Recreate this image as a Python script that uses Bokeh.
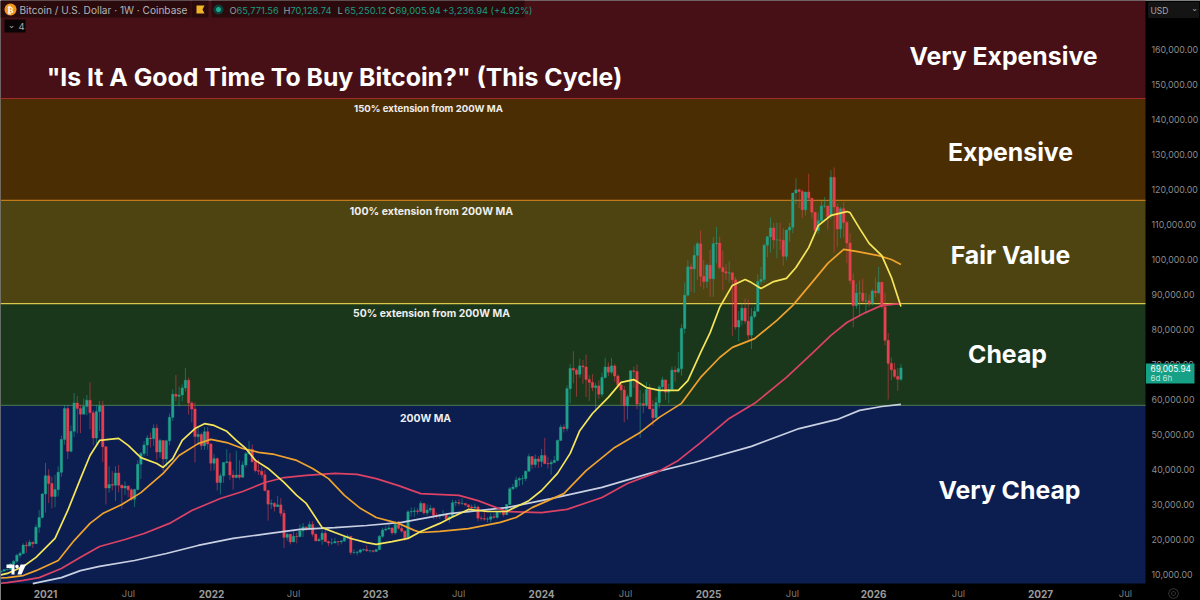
import math
from bokeh.plotting import figure
from bokeh.models import BoxAnnotation, Label, PolyAnnotation, ColumnDataSource, Range1d
from bokeh.embed import file_html
from bokeh.resources import INLINE

first_week = -14
opens = [10.7,11.0,11.4,11.5,13.0,13.8,15.5,16.0,18.4,18.2,19.2,18.8,23.5,26.3,
33.0,38.2,36.0,32.3,34.3,39.2,48.6,57.4,45.2,50.9,59.0,57.4,55.8,58.0,59.8,56.2,49.0,56.6,58.2,46.5,34.7,35.7,35.5,39.0,35.5,34.7,35.3,34.2,31.5,34.3,41.5,44.6,47.0,49.0,48.8,51.8,45.0,48.3,43.0,48.2,54.9,61.5,60.9,61.3,63.3,65.5,59.0,57.3,49.4,50.0,46.8,50.8,
47.3,41.8,43.1,36.3,38.2,42.0,42.2,38.4,37.7,38.4,37.8,41.3,44.5,45.8,42.2,39.7,39.5,38.5,34.0,30.1,30.3,29.4,29.9,27.5,20.6,21.5,19.3,20.9,20.8,22.5,23.6,23.2,24.3,21.5,19.6,20.0,21.8,19.4,19.0,19.0,19.4,19.3,19.6,20.6,20.9,16.3,16.3,16.4,17.0,17.1,16.8,16.8,
16.6,17.1,20.9,22.7,23.0,23.3,21.9,24.3,23.2,22.4,20.5,27.9,28.0,28.2,28.0,30.3,27.6,28.4,28.9,26.9,26.7,27.1,27.1,25.8,26.5,30.5,30.6,30.3,30.3,29.9,29.3,29.0,29.3,26.1,26.0,25.8,25.8,26.5,26.3,27.9,27.9,27.1,30.0,34.5,35.0,37.0,37.4,37.4,39.5,43.7,41.4,43.0,
42.3,44.0,41.7,41.6,42.0,42.6,48.3,52.1,51.7,63.1,68.9,68.4,67.2,69.6,69.3,65.7,64.9,63.4,63.9,61.5,66.3,69.3,67.8,69.6,66.7,64.2,62.7,58.2,60.8,68.2,68.0,58.7,58.8,58.4,62.9,57.3,54.8,59.1,63.6,65.6,62.1,62.9,68.4,67.9,68.8,80.3,89.8,97.9,97.3,101.2,104.5,95.2,93.7,
98.4,94.5,104.5,104.7,97.7,96.5,96.1,96.2,94.2,80.7,82.6,86.1,82.4,78.4,83.7,85.2,93.7,94.3,104.1,106.5,109.0,105.6,105.6,105.5,100.9,108.4,109.2,119.0,119.9,119.4,114.2,119.3,117.5,113.5,108.3,111.1,115.3,115.3,112.2,123.5,115.0,108.7,114.5,110.6,104.7,94.0,86.8,90.4,90.4,88.2,88.2,87.5,
91.0,90.5,93.5,86.5,76.9,70.3,68.5,66.6,65.77]
highs = [11.1,11.5,11.7,13.3,14.1,15.9,16.5,18.9,19.4,19.9,19.4,24.3,28.4,33.3,
41.9,40.1,37.9,38.5,40.9,49.7,58.4,58.3,52.6,61.8,61.0,58.4,60.2,61.3,64.9,57.0,58.5,59.6,59.6,46.6,40.9,39.5,40.9,41.3,35.7,36.6,35.4,34.7,34.5,42.6,45.0,48.1,49.8,50.5,52.9,52.9,48.8,48.4,48.5,56.0,62.9,67.0,63.7,64.3,69.0,66.3,59.5,59.2,52.0,50.5,52.1,52.1,
47.5,44.4,43.5,38.9,42.0,45.8,44.7,39.8,45.4,42.6,42.3,45.1,48.2,47.2,42.4,42.9,40.8,40.0,34.2,31.4,30.7,32.4,31.8,28.5,21.9,21.5,22.5,22.0,24.3,24.7,23.6,25.2,25.2,21.8,20.6,22.8,22.7,19.7,20.4,20.5,19.6,19.7,21.1,21.5,21.0,17.2,16.8,17.4,17.4,18.3,17.0,16.9,
17.2,21.3,23.4,23.8,24.3,23.4,25.2,25.3,23.9,22.6,28.4,29.2,29.2,29.0,31.0,30.5,30.0,29.9,29.2,27.7,27.1,28.4,27.4,26.8,31.4,31.3,31.5,31.8,30.4,30.0,30.0,30.2,29.7,26.8,28.1,26.4,27.5,27.4,28.0,28.6,28.0,30.2,35.0,35.9,38.0,37.9,38.4,39.7,44.5,43.8,44.3,43.8,
45.9,49.0,43.6,42.8,43.9,48.6,52.8,52.9,64.0,70.2,73.8,68.9,71.7,71.3,72.8,66.9,67.2,64.7,65.5,67.7,71.9,70.6,71.9,70.2,67.2,64.5,63.8,61.5,68.4,69.4,70.0,62.7,61.8,65.0,64.5,59.8,60.7,64.1,66.5,65.6,64.5,69.4,69.5,73.6,81.5,93.4,99.8,98.9,104.0,105.0,108.3,99.9,98.9,
102.7,106.4,109.3,106.5,102.5,98.8,99.5,96.5,95.0,85.3,87.5,88.8,88.5,86.1,86.5,95.8,97.9,104.4,106.7,112.0,110.4,110.5,110.5,108.9,108.5,110.5,119.0,123.2,120.2,120.0,119.3,124.5,117.6,113.6,113.4,116.8,117.9,115.3,125.5,126.3,115.9,115.0,116.4,111.0,107.5,96.0,93.1,94.0,94.5,90.4,90.0,91.5,
94.8,97.9,93.6,90.5,79.0,72.0,70.5,69.0,70.13]
lows = [10.6,10.8,11.2,11.4,12.8,13.2,14.8,15.8,16.2,18.0,17.6,18.8,21.9,26.0,
27.7,30.4,28.9,29.2,32.3,37.9,47.1,43.0,44.9,49.3,50.3,50.4,55.7,55.5,51.5,47.0,47.1,51.0,42.1,30.0,33.4,34.0,31.0,33.5,28.8,32.7,32.1,31.0,29.3,34.0,37.3,43.8,43.9,46.3,46.7,42.8,43.4,39.6,40.8,46.9,53.9,59.5,58.0,59.5,62.3,55.7,53.5,42.0,46.9,45.6,45.6,45.7,
39.6,39.7,34.0,32.9,36.2,41.7,37.0,34.3,37.5,37.2,37.6,40.5,44.4,42.0,39.2,38.5,37.6,33.7,25.4,28.7,28.0,29.3,26.6,17.6,19.7,18.6,19.3,18.9,20.7,20.7,22.4,22.7,20.8,19.5,19.6,18.5,19.3,18.1,18.5,19.0,18.2,18.6,19.3,20.0,15.6,15.8,15.5,16.0,16.7,16.5,16.3,16.3,
16.5,17.1,20.4,22.3,22.7,21.4,21.4,22.8,21.9,19.6,20.5,26.6,26.5,27.2,28.0,27.1,26.9,27.7,25.8,26.0,25.9,26.5,25.4,24.8,26.3,29.5,29.7,29.9,29.5,28.9,28.6,28.7,25.2,25.4,25.3,24.9,24.9,26.0,26.0,27.2,26.5,27.1,29.8,34.1,34.5,35.3,35.6,36.7,39.4,40.2,40.5,40.5,
40.7,41.5,40.3,38.5,41.9,42.3,48.3,50.6,50.9,59.0,64.6,60.8,66.2,64.5,60.7,59.6,62.4,56.5,60.2,60.7,66.0,66.7,67.2,65.1,63.4,58.5,53.5,54.3,60.6,63.4,57.2,49.0,56.1,57.8,57.2,52.5,54.6,57.5,62.7,59.8,58.9,62.4,65.1,67.5,66.8,78.8,89.4,90.8,90.5,94.1,92.2,91.5,91.9,
89.3,89.3,98.9,97.2,91.2,94.1,93.4,78.2,80.0,76.6,81.2,81.6,77.1,74.4,83.1,85.1,92.8,93.4,100.7,102.0,103.1,100.4,102.7,98.2,99.8,105.1,107.5,115.8,114.7,111.9,112.6,116.8,111.7,107.3,107.3,110.6,114.7,108.6,111.6,102.0,103.5,106.1,106.3,98.9,93.0,80.6,85.9,83.8,87.5,84.4,86.5,86.8,
89.3,90.0,86.0,75.5,60.0,65.5,66.0,62.5,65.25]
closes = [11.0,11.4,11.5,13.0,13.8,15.5,16.0,18.4,18.2,19.2,18.8,23.5,26.3,33.0,
38.2,36.0,32.3,34.3,39.2,48.6,57.4,45.2,50.9,59.0,57.4,55.8,58.0,59.8,56.2,49.0,56.6,58.2,46.5,34.7,35.7,35.5,39.0,35.5,34.7,35.3,34.2,31.5,34.3,41.5,44.6,47.0,49.0,48.8,51.8,45.0,48.3,43.0,48.2,54.9,61.5,60.9,61.3,63.3,65.5,59.0,57.3,49.4,50.0,46.8,50.8,47.3,
41.8,43.1,36.3,38.2,42.0,42.2,38.4,37.7,38.4,37.8,41.3,44.5,45.8,42.2,39.7,39.5,38.5,34.0,30.1,30.3,29.4,29.9,27.5,20.6,21.5,19.3,20.9,20.8,22.5,23.6,23.2,24.3,21.5,19.6,20.0,21.8,19.4,19.0,19.0,19.4,19.3,19.6,20.6,20.9,16.3,16.3,16.4,17.0,17.1,16.8,16.8,16.6,
17.1,20.9,22.7,23.0,23.3,21.9,24.3,23.2,22.4,20.5,27.9,28.0,28.2,28.0,30.3,27.6,28.4,28.9,26.9,26.7,27.1,27.1,25.8,26.5,30.5,30.6,30.3,30.3,29.9,29.3,29.0,29.3,26.1,26.0,25.8,25.8,26.5,26.3,27.9,27.9,27.1,30.0,34.5,35.0,37.0,37.4,37.4,39.5,43.7,41.4,43.0,42.3,
44.0,41.7,41.6,42.0,42.6,48.3,52.1,51.7,63.1,68.9,68.4,67.2,69.6,69.3,65.7,64.9,63.4,63.9,61.5,66.3,69.3,67.8,69.6,66.7,64.2,62.7,58.2,60.8,68.2,68.0,58.7,58.8,58.4,62.9,57.3,54.8,59.1,63.6,65.6,62.1,62.9,68.4,67.9,68.8,80.3,89.8,97.9,97.3,101.2,104.5,95.2,93.7,98.4,
94.5,104.5,104.7,97.7,96.5,96.1,96.2,94.2,80.7,82.6,86.1,82.4,78.4,83.7,85.2,93.7,94.3,104.1,106.5,109.0,105.6,105.6,105.5,100.9,108.4,109.2,119.0,119.9,119.4,114.2,119.3,117.5,113.5,108.3,111.1,115.3,115.3,112.2,123.5,115.0,108.7,114.5,110.6,104.7,94.0,86.8,90.4,90.4,88.2,88.2,87.5,91.0,
90.5,93.5,86.5,76.9,70.3,68.5,66.6,65.77,69.01]

ma_yellow_w = [-14,-12,-7,-3,3,7,11,14,17,20,23,26,30,35,37,40,43,47,50,53,57,60,63,66,70,75,79,82,87,91,96,101,104,109,114,118,124,127,133,139,145,152,156,161,165,168,172,177,181,185,189,193,199,202,206,209,212,216,220,222,225,229,233,236,240,243,247,252,253,256,259,263,266,269]
ma_yellow_v = [9.9,10.3,12.3,14.9,20.3,28.3,37.4,44.0,48.3,48.6,48.9,46.9,43.4,41.7,40.6,43.1,48.3,51.7,53.1,52.6,50.9,48.3,46.0,42.6,40.3,36.3,32.6,30.3,23.4,22.0,20.3,19.1,18.6,19.4,20.3,22.3,24.6,26.0,28.6,28.0,28.0,31.1,34.0,38.9,44.6,51.1,56.0,60.6,64.9,65.7,63.4,62.6,62.6,65.4,73.4,79.1,86.3,92.6,94.3,93.4,91.7,93.7,94.6,97.7,103.4,109.7,112.6,113.7,113.4,108.9,104.6,101.1,94.9,86.6]
ma_orange_w = [-14,-12,-7,-3,4,9,14,18,24,30,37,42,48,52,57,62,67,72,79,84,89,94,99,104,111,116,118,124,133,143,148,153,163,170,179,187,193,200,206,212,216,223,230,235,241,246,251,255,262,266,269]
ma_orange_v = [9.0,9.1,9.7,11.1,14.0,19.7,24.6,27.4,30.0,33.4,38.9,44.0,47.4,48.6,47.7,46.0,44.9,44.3,42.6,40.3,37.4,32.6,28.9,26.3,24.6,22.6,22.0,22.3,23.1,24.9,26.3,29.1,33.1,39.7,46.3,50.6,54.9,58.9,66.3,72.0,74.9,77.4,82.6,86.9,93.4,98.9,102.9,102.3,101.1,100.0,98.6]
ma_red_w = [-14,-12,-7,-2,5,11,17,25,31,39,46,55,62,69,75,82,91,98,104,111,118,130,136,145,156,164,175,183,192,199,206,215,223,233,241,247,252,258,263,269]
ma_red_v = [7.5,7.7,8.3,9.1,11.7,14.9,18.0,20.0,21.7,24.6,28.3,31.7,33.7,36.3,37.7,38.3,38.9,38.6,37.4,35.4,33.1,32.6,31.1,28.0,27.7,28.6,32.0,36.0,39.1,42.6,47.7,54.6,58.9,66.3,73.1,78.3,82.0,84.9,86.9,87.4]
ma_white_w = [-4,5,11,17,28,38,48,59,70,80,91,101,112,127,145,159,175,190,204,222,237,249,256,263,269]
ma_white_v = [7.4,9.1,11.1,12.3,14.0,16.0,18.3,20.3,21.7,22.9,23.4,24.0,24.9,27.4,29.1,31.7,34.9,38.9,42.0,46.6,51.7,54.3,56.9,58.0,58.6]

zone_edges = [58.3, 87.4, 116.9, 146.0]
zone_names = ["Very Cheap", "Cheap", "Fair Value", "Expensive", "Very Expensive"]
edge_names = ["200W MA", "50% extension from 200W MA", "100% extension from 200W MA", "150% extension from 200W MA"]

price_ticks = [10,20,30,40,50,60,70,80,90,100,110,120,130,140,150,160]
price_tick_labels = ["10,000.00","20,000.00","30,000.00","40,000.00","50,000.00","60,000.00","70,000.00","80,000.00",
                     "90,000.00","100,000.00","110,000.00","120,000.00","130,000.00","140,000.00","150,000.00","160,000.00"]
year_ticks = [0, 52.2, 103.8, 156, 208.5, 260.4, 312.9]
year_labels = ["2021","2022","2023","2024","2025","2026","2027"]
jul_ticks = [26.1, 78, 129.9, 182.4, 234.9, 287.1, 339.6]

def px(x): return (x - 45) / 3.18
def py(y): return 10 + (574 - y) / 3.5

FONT = "Inter"
p = figure(frame_width=1200, frame_height=600, output_backend="svg", toolbar_location=None,
           x_range=Range1d(px(0), px(1200)), y_range=Range1d(py(600), py(0)),
           x_axis_location=None, y_axis_location=None,
           min_border_left=0, min_border_top=0, min_border_right=0, min_border_bottom=0,
           background_fill_color="#000000", border_fill_color="#000000", outline_line_color=None)
p.grid.visible = False

band_colors = ["#0c1e50", "#1a361b", "#4e4412", "#4b2d03", "#461016"]
edges = [py(583)] + zone_edges + [None]
for i, c in enumerate(band_colors):
    p.add_layout(BoxAnnotation(bottom=edges[i], top=edges[i+1], right=px(1145), fill_color=c, fill_alpha=1,
                               line_alpha=0, level="underlay"))
edge_src = ColumnDataSource(dict(x0=[px(0)]*4, x1=[px(1145)]*4, y=zone_edges,
                                 color=["#3f6a4c", "#d9c84a", "#c07a1c", "#a52a2a"]))
p.segment("x0", "y", "x1", "y", source=edge_src, color="color", line_width=1.2)

weeks = [first_week + i for i in range(len(closes))]
UP, DOWN = "#1fa38a", "#e8404f"
src = ColumnDataSource(dict(w=weeks, o=opens, h=highs, l=lows, c=closes,
                            color=[UP if c >= o else DOWN for o, c in zip(opens, closes)]))
p.segment("w", "h", "w", "l", source=src, color="color", line_width=1, line_alpha=0.55)
p.vbar("w", 0.76, "o", "c", source=src, fill_color="color", line_color="color", line_width=0.4)

p.line(ma_white_w, ma_white_v, line_color="#c9d0e2", line_width=1.7)
p.line(ma_red_w, ma_red_v, line_color="#dc4264", line_width=1.7)
p.line(ma_orange_w, ma_orange_v, line_color="#f0a22e", line_width=1.7)
p.line(ma_yellow_w, ma_yellow_v, line_color="#f6e65a", line_width=1.7)

def tick_text(s, x, y, size, color, style="normal", align="center"):
    p.add_layout(Label(x=x, y=y, text=s, text_font=FONT, text_font_size=f"{size}px", text_color=color,
                       text_font_style=style, text_align=align, text_baseline="middle"))
for v, s in zip(price_ticks, price_tick_labels):
    tick_text(s, px(1151), v, 8.8, "#8c8c8c", align="left")
for t, s in zip(year_ticks, year_labels):
    tick_text(s, t, py(593), 10, "#9a9a9a", style="bold")
for t in jul_ticks:
    tick_text("Jul", t, py(593), 9.5, "#7a7a7a")

def text(s, x, y, size, color="#ffffff", style="normal", align="center", font=FONT):
    p.add_layout(Label(x=px(x), y=py(y), text=s, text_font=font, text_font_size=f"{size}px",
                       text_color=color, text_font_style=style, text_align=align,
                       text_baseline="middle"))
def poly(xs, ys, fill, line=None, width=1, alpha=1):
    p.add_layout(PolyAnnotation(xs=[px(v) for v in xs], ys=[py(v) for v in ys], fill_color=fill,
                                fill_alpha=alpha, line_color=line, line_width=width))
def rect(x0, y0, x1, y1, fill, line=None, alpha=1):
    poly([x0, x1, x1, x0], [y0, y0, y1, y1], fill, line, alpha=alpha)
def disc(x, y, r, fill, line=None, n=24):
    poly([x + r*math.cos(2*math.pi*i/n) for i in range(n)],
         [y + r*math.sin(2*math.pi*i/n) for i in range(n)], fill, line)

text('"Is It A Good Time To Buy Bitcoin?" (This Cycle)', 334, 76, 24.8, style="bold")
for name, cx, cy in zip(zone_names[::-1], [1003, 1010, 1010, 1007, 1009], [55, 151, 254, 353, 489]):
    text(name, cx, cy, 24.8, style="bold")
for name, cx, cy, size in zip(edge_names[::-1], [428, 431, 431, 425], [108, 211, 313, 418], [9.6, 10.5, 10.4, 10.4]):
    text(name, cx, cy, size, color="#eeeeee", style="bold")

rect(0, 0, 190, 17, "#2b0a0e")
rect(191, 0, 208, 17, "#2b0a0e")
rect(211, 0, 524, 17, "#2b0a0e")
disc(10, 9, 6, "#f2931e")
text("₿", 10, 9, 9, style="bold", font="DejaVu Sans")
text("Bitcoin / U.S. Dollar · 1W · Coinbase", 19, 9.5, 10.1, color="#b3b3b3", align="left")
poly([196, 204, 202, 204, 196], [5, 5, 9, 13, 13], "#f0b429")
disc(218, 9, 5, "#0e3f3a")
disc(218, 9, 2.5, "#1fa78c")
GREEN = "#1b9a80"
for letter, value, x in zip("OHLC", ["65,771.56", "70,128.74", "65,250.12", "69,005.94"], [229, 283, 337, 388]):
    text(letter, x, 9.5, 9.3, color="#9a9a9a", align="left")
    text(value, x + 7, 9.5, 9.3, color=GREEN, align="left")
text("+3,236.94 (+4.92%)", 442, 9.5, 9.3, color=GREEN, align="left")
rect(4, 19, 25, 32, "#0a0406")
text("⌄", 11, 24, 9, color="#aaaaaa", font="DejaVu Sans")
text("4", 21, 25.5, 9.5, color="#aaaaaa")

rect(6, 564, 14, 567.5, "#ffffff")
rect(11, 567.5, 14, 574, "#ffffff")
disc(16.5, 566, 1.8, "#ffffff")
poly([20, 25.5, 21, 17], [564, 564, 574, 574], "#ffffff")

rect(1145.5, 363, 1194, 383, "#16a085")
text("69,005.94", 1150, 368, 8.3, align="left")
text("6d 6h", 1150, 377, 8, color="#bfe6dc", align="left")
rect(1148, 2, 1198, 17, "#141414", "#333333")
text("USD", 1150, 10, 8.5, color="#a8a8a8", align="left")
text("⌄", 1194, 8, 8, color="#a8a8a8", font="DejaVu Sans")
disc(1173, 593, 5, "#000000", "#a8a8a8", n=8)
disc(1173, 593, 2, "#000000", "#a8a8a8", n=12)

html = file_html(p, INLINE)
open("out.html", "w").write(html)
